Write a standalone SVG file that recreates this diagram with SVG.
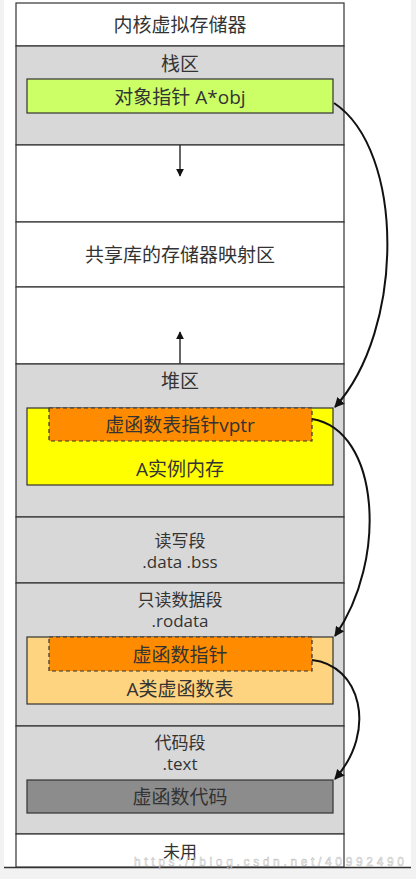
<svg xmlns="http://www.w3.org/2000/svg" width="416" height="879" viewBox="0 0 416 879">
<defs>
<style>
.t{font-family:"Open Sans","Noto Sans CJK SC",sans-serif;font-size:19px;fill:#333;text-anchor:middle;dominant-baseline:central}
.s{font-size:17px}
.row{stroke:#333;stroke-width:1.2}
.box{stroke:#333;stroke-width:1.2}
.dash{stroke:#333;stroke-width:1.2;stroke-dasharray:4 3}
.con{fill:none;stroke:#111;stroke-width:2}
.small{fill:none;stroke:#333;stroke-width:1.5}
</style>
<marker id="ah" viewBox="0 0 10 10" refX="9" refY="5" markerWidth="10" markerHeight="10" markerUnits="userSpaceOnUse" orient="auto">
<path d="M0,0 L10,5 L0,10 Z" fill="#111"/>
</marker>
<marker id="sh" viewBox="0 0 10 10" refX="9" refY="5" markerWidth="8" markerHeight="8" markerUnits="userSpaceOnUse" orient="auto">
<path d="M0,0 L10,5 L0,10 Z" fill="#111"/>
</marker>
</defs>
<rect x="0" y="0" width="416" height="879" fill="#f2f2f2"/>
<rect x="4" y="0" width="407" height="867" fill="#fff"/>
<line x1="4" y1="867.5" x2="411" y2="867.5" stroke="#333" stroke-width="1.5"/>

<g id="kernel"><rect class="row" x="16" y="3" width="328" height="43" fill="#fff"/><text class="t" x="180" y="25">内核虚拟存储器</text></g>
<g id="stack"><rect class="row" x="16" y="46" width="328" height="99" fill="#d8d8d8"/><text class="t" x="180" y="64">栈区</text>
<rect class="box" x="27" y="79" width="306" height="34" fill="#ccff66"/><text class="t" x="180" y="97">对象指针 A*obj</text></g>
<g id="gap1"><rect class="row" x="16" y="145" width="328" height="77" fill="#fff"/></g>
<g id="shared"><rect class="row" x="16" y="222" width="328" height="65" fill="#fff"/><text class="t" x="180" y="255">共享库的存储器映射区</text></g>
<g id="gap2"><rect class="row" x="16" y="287" width="328" height="77" fill="#fff"/></g>
<g id="heap"><rect class="row" x="16" y="364" width="328" height="153" fill="#d8d8d8"/><text class="t" x="180" y="381">堆区</text>
<rect class="box" x="27" y="408" width="306" height="77" fill="#ffff00"/>
<rect class="dash" x="49" y="408" width="263" height="33" fill="#ff8c00"/>
<text class="t" x="180" y="425">虚函数表指针vptr</text>
<text class="t" x="180" y="469">A实例内存</text></g>
<g id="rw"><rect class="row" x="16" y="517" width="328" height="66" fill="#d8d8d8"/><text class="t s" x="180" y="540">读写段</text><text class="t s" x="180" y="561">.data .bss</text></g>
<g id="ro"><rect class="row" x="16" y="583" width="328" height="143" fill="#d8d8d8"/><text class="t s" x="180" y="599">只读数据段</text><text class="t s" x="180" y="620">.rodata</text>
<rect class="box" x="27" y="637" width="306" height="67" fill="#ffd480"/>
<rect class="dash" x="49" y="637" width="263" height="34" fill="#ff8c00"/>
<text class="t" x="180" y="655">虚函数指针</text>
<text class="t" x="180" y="689">A类虚函数表</text></g>
<g id="text"><rect class="row" x="16" y="726" width="328" height="108" fill="#d8d8d8"/><text class="t s" x="180" y="742">代码段</text><text class="t s" x="180" y="763">.text</text>
<rect class="box" x="27" y="780" width="306" height="33" fill="#8c8c8c"/><text class="t" x="180" y="797">虚函数代码</text></g>
<g id="unused"><rect class="row" x="16" y="834" width="328" height="33" fill="#fff"/><text class="t s" x="180" y="851">未用</text></g>

<g id="connectors">
<line class="small" x1="180" y1="145" x2="180" y2="176" marker-end="url(#sh)"/>
<line class="small" x1="180" y1="364" x2="180" y2="332" marker-end="url(#sh)"/>
<path class="con" d="M334,103 C405,150 405,330 335,407" marker-end="url(#ah)"/>
<path class="con" d="M312,419 C380,430 388,560 335,636" marker-end="url(#ah)"/>
<path class="con" d="M312,660 C360,665 378,730 335,779" marker-end="url(#ah)"/>
</g>
<text x="134" y="866" font-family="'Liberation Sans', sans-serif" font-size="12" fill="#fff" fill-opacity="0.6" stroke="#999" stroke-width="0.5" stroke-opacity="0.7" textLength="270" lengthAdjust="spacing">https://blog.csdn.net/40992490</text>
</svg>
